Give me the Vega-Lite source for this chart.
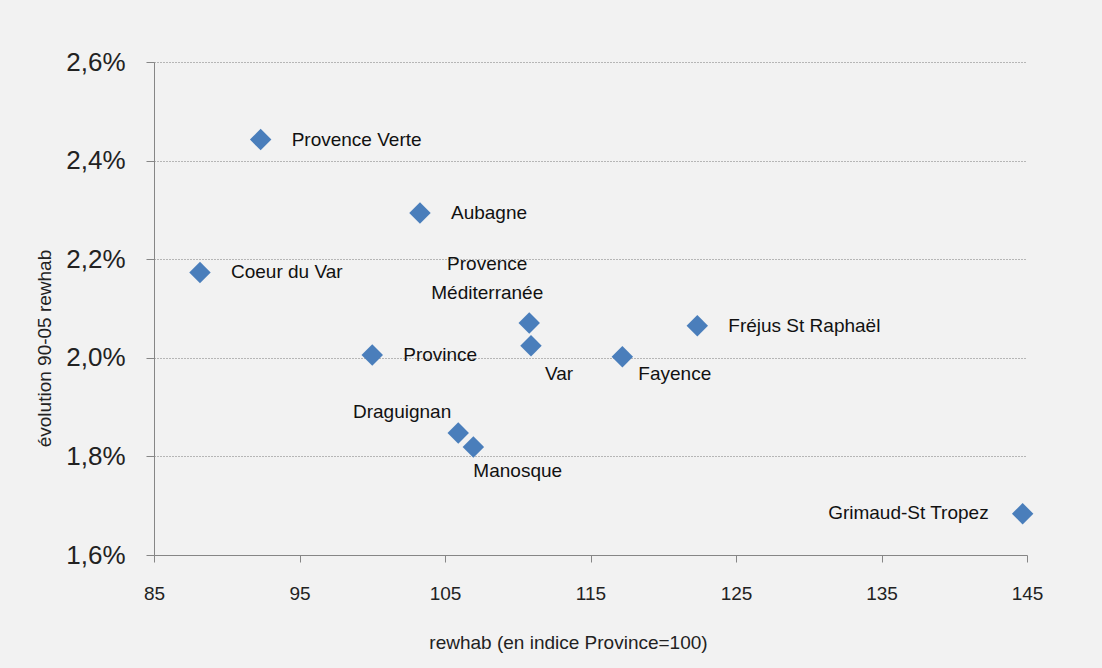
{
  "$schema": "https://vega.github.io/schema/vega-lite/v6.json",
  "autosize": "none",
  "width": 873,
  "height": 493,
  "padding": {"left": 154, "top": 62, "right": 75, "bottom": 113},
  "background": "#f2f2f2",
  "config": {
    "font": "Liberation Sans",
    "view": {"stroke": null},
    "axis": {"labelFont": "Liberation Sans", "titleFont": "Liberation Sans", "titleFontWeight": "normal", "labelColor": "#222222", "titleColor": "#222222"}
  },
  "data": {
    "values": [
      {"name": "Provence Verte", "rev": 92.33, "evol": 0.024426},
      {"name": "Aubagne", "rev": 103.28, "evol": 0.022938},
      {"name": "Coeur du Var", "rev": 88.16, "evol": 0.021732},
      {"name": "Provence Méditerranée", "rev": 110.79, "evol": 0.020705},
      {"name": "Var", "rev": 110.91, "evol": 0.020244},
      {"name": "Province", "rev": 100.0, "evol": 0.020055},
      {"name": "Fayence", "rev": 117.19, "evol": 0.02002},
      {"name": "Fréjus St Raphaël", "rev": 122.34, "evol": 0.02065},
      {"name": "Draguignan", "rev": 105.91, "evol": 0.018476},
      {"name": "Manosque", "rev": 106.95, "evol": 0.01819},
      {"name": "Grimaud-St Tropez", "rev": 144.7, "evol": 0.016837}
    ]
  },
  "encoding": {
    "x": {
      "field": "rev", "type": "quantitative",
      "scale": {"domain": [85, 145], "nice": false, "zero": false},
      "axis": {
        "values": [85, 95, 105, 115, 125, 135, 145],
        "grid": false,
        "labelFlush": false,
        "title": "rewhab (en indice Province=100)",
        "titleFontSize": 19,
        "titleX": 414,
        "titleY": 87,
        "titleBaseline": "middle",
        "labelFontSize": 19,
        "labelPadding": 22,
        "tickSize": 7,
        "tickColor": "#868686",
        "domainColor": "#868686"
      }
    },
    "y": {
      "field": "evol", "type": "quantitative",
      "scale": {"domain": [0.016, 0.026], "nice": false, "zero": false},
      "axis": {
        "values": [0.016, 0.018, 0.02, 0.022, 0.024, 0.026],
        "labelExpr": "replace(format(datum.value, '.1%'), '.', ',')",
        "labelFontSize": 26,
        "labelPadding": 21,
        "labelFlush": false,
        "tickSize": 8,
        "tickColor": "#868686",
        "domainColor": "#868686",
        "grid": true,
        "gridDash": [1, 2],
        "gridColor": "#7a7a7a",
        "title": "évolution 90-05 rewhab",
        "titleFontSize": 19,
        "titleAngle": -90,
        "titleX": -110,
        "titleY": 286,
        "titleAlign": "center",
        "titleBaseline": "middle"
      }
    }
  },
  "layer": [
    {
      "mark": {"type": "point", "shape": "diamond", "filled": true, "size": 460, "color": "#4A7EBB", "opacity": 1}
    },
    {
      "transform": [{"filter": {"field": "name", "oneOf": ["Provence Verte", "Aubagne", "Coeur du Var", "Province", "Fréjus St Raphaël"]}}],
      "mark": {"type": "text", "align": "left", "baseline": "middle", "dx": 31, "dy": 0, "fontSize": 19, "color": "#111111"},
      "encoding": {"text": {"field": "name"}}
    },
    {
      "transform": [{"filter": {"field": "name", "equal": "Provence Méditerranée"}}],
      "mark": {"type": "text", "align": "center", "baseline": "middle", "dx": -42, "dy": -59, "lineBreak": " ", "lineHeight": 29, "fontSize": 19, "color": "#111111"},
      "encoding": {"text": {"field": "name"}}
    },
    {
      "transform": [{"filter": {"field": "name", "equal": "Var"}}],
      "mark": {"type": "text", "align": "center", "baseline": "middle", "dx": 28, "dy": 28, "fontSize": 19, "color": "#111111"},
      "encoding": {"text": {"field": "name"}}
    },
    {
      "transform": [{"filter": {"field": "name", "equal": "Fayence"}}],
      "mark": {"type": "text", "align": "left", "baseline": "middle", "dx": 16, "dy": 17, "fontSize": 19, "color": "#111111"},
      "encoding": {"text": {"field": "name"}}
    },
    {
      "transform": [{"filter": {"field": "name", "equal": "Draguignan"}}],
      "mark": {"type": "text", "align": "right", "baseline": "middle", "dx": -7, "dy": -21, "fontSize": 19, "color": "#111111"},
      "encoding": {"text": {"field": "name"}}
    },
    {
      "transform": [{"filter": {"field": "name", "equal": "Manosque"}}],
      "mark": {"type": "text", "align": "left", "baseline": "middle", "dx": 0, "dy": 24, "fontSize": 19, "color": "#111111"},
      "encoding": {"text": {"field": "name"}}
    },
    {
      "transform": [{"filter": {"field": "name", "equal": "Grimaud-St Tropez"}}],
      "mark": {"type": "text", "align": "right", "baseline": "middle", "dx": -34, "dy": -1, "fontSize": 19, "color": "#111111"},
      "encoding": {"text": {"field": "name"}}
    }
  ]
}
